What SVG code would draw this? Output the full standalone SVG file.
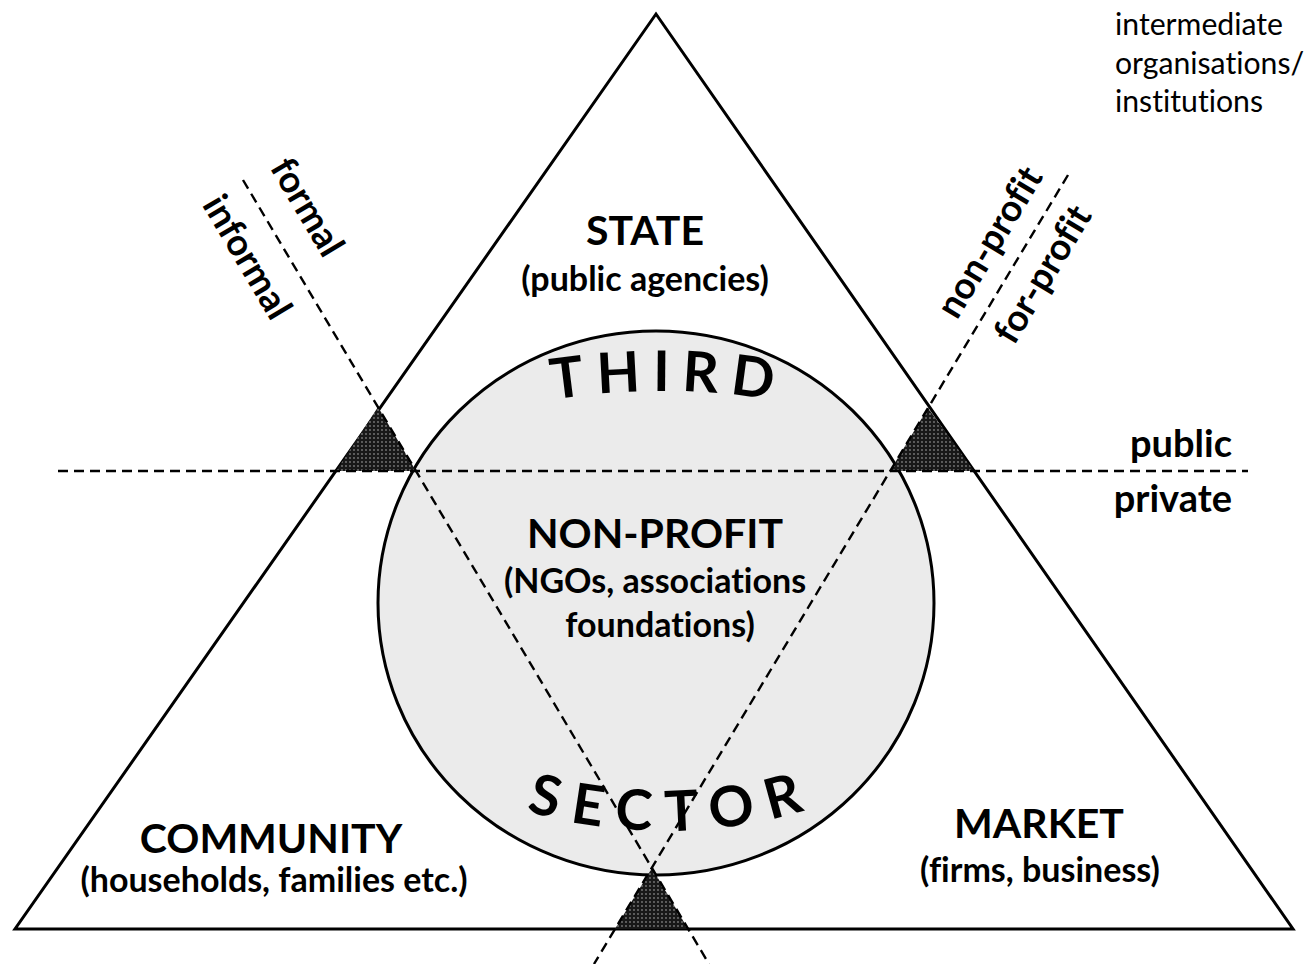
<svg xmlns="http://www.w3.org/2000/svg" width="1306" height="964" viewBox="0 0 1306 964">
<defs>
<style>
text{font-family:Lato,"Open Sans","DejaVu Sans",sans-serif;fill:#000;font-variant-ligatures:none;font-feature-settings:"liga" 0,"clig" 0}
.title{font-size:41px;font-weight:bold;text-anchor:middle}
.sub{font-size:34px;font-weight:bold;text-anchor:middle}
.lab{font-size:38px;font-weight:bold}
.rot{font-size:37px;font-weight:bold;text-anchor:middle}
.big{font-size:56px;font-weight:bold}
.note{font-size:30.2px}
.dash{fill:none;stroke:#000;stroke-width:2.4;stroke-dasharray:10 6}
.shade{fill:url(#dots);stroke:none}
</style>
<pattern id="dots" width="4" height="4" patternUnits="userSpaceOnUse">
<rect width="4" height="4" fill="#181818"/>
<circle cx="2" cy="2" r="0.9" fill="#7a7a7a"/>
</pattern>
<path id="arcTop" d="M -38 1091 A 700 700 0 0 1 1362 1091"/>
<path id="arcBot" d="M 175 341 A 490 490 0 0 0 1155 341"/>
</defs>
<rect width="1306" height="964" fill="#fff"/>
<g id="triangle">
<polygon points="656,14 15,929 1293,929" fill="#fff" stroke="#000" stroke-width="3"/>
</g>
<g id="third-sector">
<ellipse cx="656" cy="603" rx="278" ry="272" fill="#ebebeb" stroke="#000" stroke-width="3"/>
</g>
<g id="intermediate-zones">
<polygon class="shade" points="378,407 336,471 416,471"/>
<polygon class="shade" points="928,408 890,471 974,471"/>
<polygon class="shade" points="652,868 615,929 688,929"/>
</g>
<g id="state">
<text class="title" x="645" y="245">STATE</text>
<text class="sub" x="645" y="291">(public agencies)</text>
</g>
<g id="community">
<text class="title" x="271" y="853">COMMUNITY</text>
<text class="sub" x="274" y="892">(households, families etc.)</text>
</g>
<g id="market">
<text class="title" x="1039" y="838">MARKET</text>
<text class="sub" x="1040" y="882">(firms, business)</text>
</g>
<g id="non-profit">
<text class="title" x="655" y="548">NON-PROFIT</text>
<text class="sub" x="655" y="593">(NGOs, associations</text>
<text class="sub" x="660" y="637">foundations)</text>
</g>
<g id="third-sector-label">
<text class="big" letter-spacing="12"><textPath href="#arcTop" startOffset="1105.6" text-anchor="middle">THIRD</textPath></text>
<text class="big" letter-spacing="14"><textPath href="#arcBot" startOffset="777" text-anchor="middle">SECTOR</textPath></text>
</g>
<g id="intermediate">
<text class="note" x="1115" y="35">intermediate</text>
<text class="note" x="1115" y="74">organisations/</text>
<text class="note" x="1115" y="112">institutions</text>
</g>
<g id="axis-labels">
<text class="lab" x="1232" y="457" text-anchor="end">public</text>
<text class="lab" x="1232" y="512" text-anchor="end">private</text>
<text class="rot" transform="translate(296.5,213.5) rotate(59.3)">formal</text>
<text class="rot" transform="translate(236.5,263.5) rotate(59.3)">informal</text>
<text class="rot" transform="translate(1000.4,248.7) rotate(-59)">non-profit</text>
<text class="rot" transform="translate(1053.4,280.7) rotate(-59)">for-profit</text>
</g>
<g id="connectors">
<line class="dash" x1="58" y1="471" x2="1248" y2="471"/>
<line class="dash" x1="243" y1="180" x2="709" y2="964"/>
<line class="dash" x1="1068" y1="175" x2="594" y2="964"/>
</g>
</svg>
